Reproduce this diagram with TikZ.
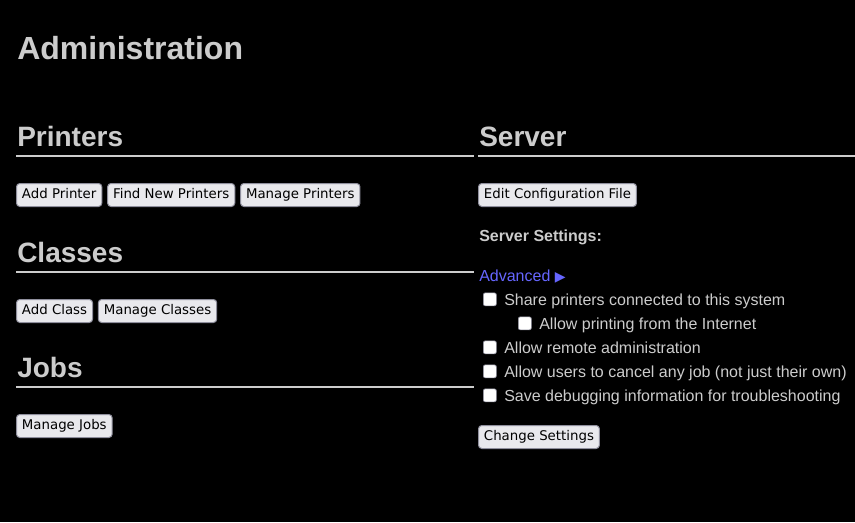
\documentclass[tikz,border=0pt]{standalone}
\usepackage{fontspec}
\setmainfont{Liberation Sans}
\newfontfamily\btnfamily{DejaVu Sans}
\newfontfamily\symfamily{DejaVu Sans}
\definecolor{txt}{HTML}{CCCCCC}
\definecolor{btnfill}{HTML}{E9E9ED}
\definecolor{btnborder}{HTML}{8F8F9D}
\definecolor{linkblue}{HTML}{6666FF}
\begin{document}
\begin{tikzpicture}[x=0.75pt,y=-0.75pt,
  title/.style={anchor=base west,inner sep=0pt,text=txt,font=\fontsize{24pt}{28pt}\selectfont\bfseries},
  head/.style={anchor=base west,inner sep=0pt,text=txt,font=\fontsize{21pt}{25pt}\selectfont\bfseries},
  rule/.style={draw=txt,line width=1.5pt},
  btn/.style={draw=btnborder,fill=btnfill,line width=0.75pt,rounded corners=2.5pt,
    font=\btnfamily\fontsize{10pt}{12pt}\selectfont,text=black,inner xsep=4.1pt,inner ysep=0pt,
    text height=7.5pt,text depth=3pt,minimum height=17.25pt,anchor=north west},
  label/.style={anchor=base west,inner sep=0pt,text=txt,font=\fontsize{12pt}{14pt}\selectfont},
  chk/.style={draw=btnborder,fill=white,line width=0.5pt,rounded corners=1.5pt,minimum size=9.75pt,inner sep=0pt,anchor=north west}
]
\path[fill=black,use as bounding box] (0,0) rectangle (855,522);

\node[title] (admin) at (17,59) {Administration};

% Printers
\node[head] (hprinters) at (17,146) {Printers};
\coordinate (p1) at (16,156); \coordinate (p2) at (474,156);
\draw[rule] (p1) -- (p2);
\node[btn] (addprinter) at (16,183) {Add Printer};
\node[btn] (findprinters) at ([xshift=3.6pt]addprinter.north east) {Find New Printers};
\node[btn] (manageprinters) at ([xshift=3.6pt]findprinters.north east) {Manage Printers};

% Classes
\node[head] (hclasses) at (17,262) {Classes};
\coordinate (c1) at (16,272); \coordinate (c2) at (474,272);
\draw[rule] (c1) -- (c2);
\node[btn] (addclass) at (16,299) {Add Class};
\node[btn] (manageclasses) at ([xshift=3.6pt]addclass.north east) {Manage Classes};

% Jobs
\node[head] (hjobs) at (17,377) {Jobs};
\coordinate (j1) at (16,387); \coordinate (j2) at (474,387);
\draw[rule] (j1) -- (j2);
\node[btn] (managejobs) at (16,414) {Manage Jobs};

% Server
\node[head] (hserver) at (479,146) {Server};
\coordinate (s1) at (478,156); \coordinate (s2) at (855,156);
\draw[rule] (s1) -- (s2);
\node[btn] (editconf) at (478,183) {Edit Configuration File};
\node[label,font=\fontsize{12pt}{14pt}\selectfont\bfseries] (settings) at (479,241) {Server Settings:};
\node[label,text=linkblue] (advanced) at (479,281) {Advanced {\symfamily\fontsize{10.5pt}{12pt}\selectfont ▶}};

\node[chk] (cb1) at (483,292.5) {};
\node[label] (l1) at (504,305) {Share printers connected to this system};
\node[chk] (cb2) at (518,316.5) {};
\node[label] (l2) at (539,329) {Allow printing from the Internet};
\node[chk] (cb3) at (483,340.5) {};
\node[label] (l3) at (504,353) {Allow remote administration};
\node[chk] (cb4) at (483,364.5) {};
\node[label] (l4) at (504,377) {Allow users to cancel any job (not just their own)};
\node[chk] (cb5) at (483,388.5) {};
\node[label] (l5) at (504,401) {Save debugging information for troubleshooting};

\node[btn] (change) at (478,425) {Change Settings};
\end{tikzpicture}
\end{document}
